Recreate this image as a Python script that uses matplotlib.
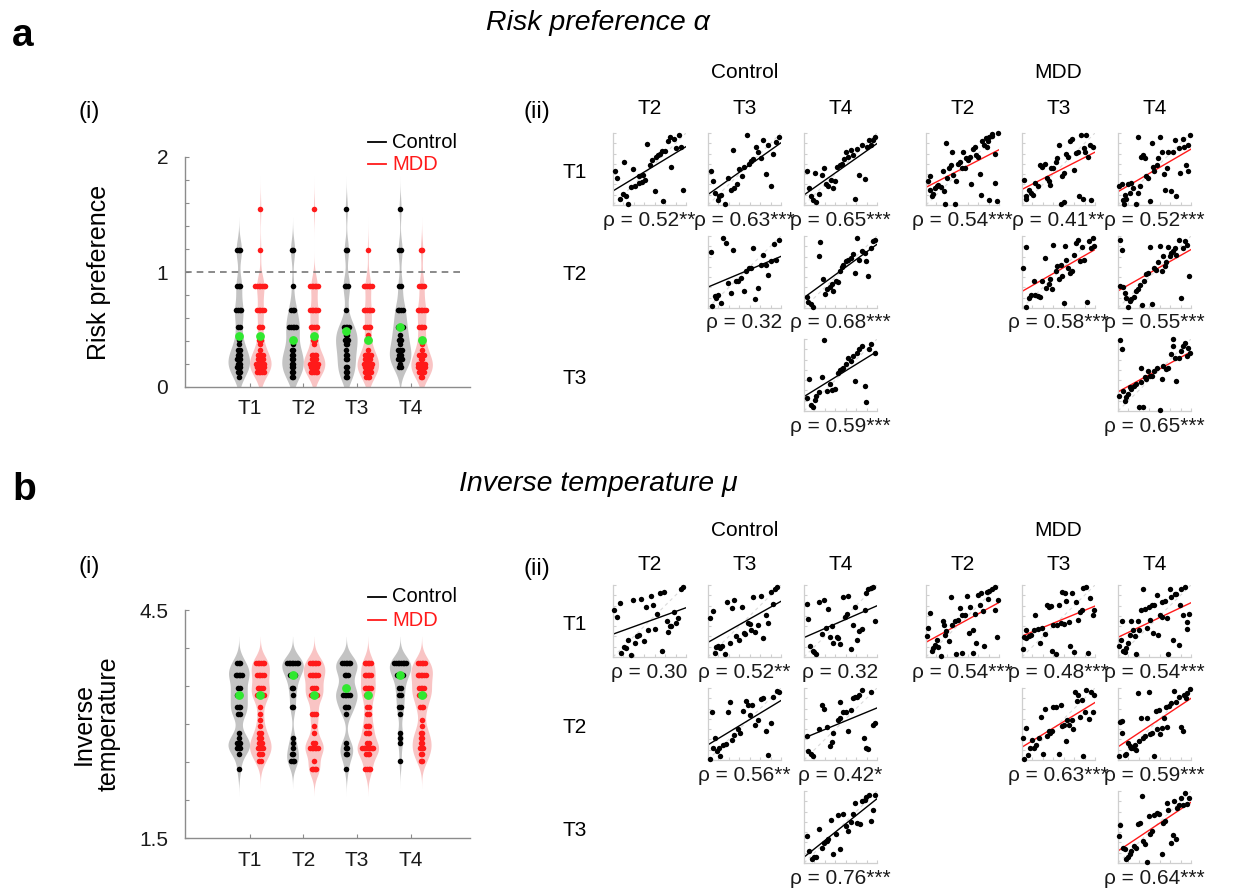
import numpy as np
import matplotlib
matplotlib.use("Agg")
import matplotlib.pyplot as plt
from matplotlib.lines import Line2D

plt.rcParams['font.family'] = ['Liberation Sans', 'DejaVu Sans']
NARROW = ['Liberation Sans Narrow', 'Liberation Sans', 'DejaVu Sans']

# ---------------- data ----------------
TIMES = ['T1', 'T2', 'T3', 'T4']

RP_LEVELS = [0.09, 0.13, 0.17, 0.20, 0.24, 0.28, 0.32, 0.37, 0.41, 0.45, 0.52, 0.67, 0.88, 1.19, 1.55]
RP_CTRL_COUNTS = [
    [1, 2, 3, 2, 3, 2, 2, 1, 1, 0, 2, 4, 3, 3, 0],
    [2, 2, 2, 2, 2, 2, 2, 1, 1, 0, 5, 3, 1, 2, 0],
    [2, 2, 2, 0, 2, 2, 1, 2, 3, 2, 4, 1, 3, 2, 1],
    [0, 0, 2, 1, 3, 2, 3, 1, 2, 1, 4, 4, 2, 2, 1],
]
RP_MDD_COUNTS = [
    [0, 5, 5, 6, 4, 4, 1, 1, 2, 0, 3, 5, 7, 1, 1],
    [0, 5, 5, 6, 4, 4, 0, 1, 2, 0, 5, 6, 6, 0, 1],
    [3, 5, 5, 6, 4, 5, 1, 0, 2, 1, 4, 6, 6, 1, 0],
    [2, 4, 5, 5, 2, 4, 1, 1, 2, 0, 4, 6, 4, 2, 0],
]
RP_CTRL_MEDIAN = [0.44, 0.41, 0.49, 0.52]
RP_MDD_MEDIAN = [0.44, 0.44, 0.41, 0.41]

IT_LEVELS = [2.41, 2.51, 2.60, 2.68, 2.75, 2.82, 2.88, 2.97, 3.05, 3.13, 3.22, 3.38, 3.48, 3.65, 3.80]
IT_CTRL_COUNTS = [
    [1, 0, 1, 3, 3, 1, 1, 0, 0, 2, 3, 3, 2, 5, 3],
    [0, 3, 2, 1, 1, 1, 0, 0, 0, 0, 2, 1, 2, 4, 8],
    [1, 0, 2, 2, 1, 0, 0, 0, 0, 1, 3, 5, 2, 3, 6],
    [0, 1, 0, 0, 1, 1, 1, 0, 0, 1, 2, 2, 2, 5, 8],
]
IT_MDD_COUNTS = [
    [0, 2, 3, 4, 3, 2, 2, 1, 1, 1, 1, 5, 4, 5, 6],
    [4, 1, 0, 6, 2, 0, 1, 1, 0, 3, 0, 5, 3, 6, 6],
    [4, 0, 3, 8, 2, 0, 3, 3, 0, 2, 2, 3, 5, 5, 5],
    [0, 2, 2, 3, 2, 2, 2, 1, 1, 0, 3, 4, 4, 6, 5],
]
IT_CTRL_MEDIAN = [3.38, 3.65, 3.47, 3.65]
IT_MDD_MEDIAN = [3.38, 3.38, 3.38, 3.38]

# scatter panels (values in percent of panel range); pairs order: 1-2,1-3,1-4,2-3,2-4,3-4
A_CTRL_12_X = [3,6,15,9,14,18,21,28,25,30,35,40,35,41,44,47,51,53,57,59,62,65,67,69,71,76,78,80,83,86,90,93,96]
A_CTRL_12_Y = [47,38,60,9,15,12,2,50,25,27,30,32,41,42,35,85,56,63,19,67,69,71,75,6,75,89,94,53,92,79,98,81,21]
A_CTRL_13_X = [4,7,10,14,15,18,23,27,31,34,36,40,43,47,50,53,56,59,62,66,69,73,76,80,82,86,89,93,97]
A_CTRL_13_Y = [47,33,16,7,12,14,2,37,21,77,23,29,50,40,53,98,57,61,64,81,73,65,91,43,84,27,71,88,94]
A_CTRL_14_X = [4,7,9,13,17,15,21,24,28,30,33,37,40,43,45,49,52,55,58,61,64,67,70,72,76,80,83,86,89,92,94,98]
A_CTRL_14_Y = [47,23,12,7,4,44,15,42,51,29,26,35,23,33,53,56,57,64,74,67,77,70,8,78,42,84,36,80,91,84,91,95]
A_CTRL_23_X = [4,5,9,11,14,18,21,25,27,32,34,38,41,45,49,52,56,59,62,65,68,73,76,80,82,86,90,93,97]
A_CTRL_23_Y = [78,3,16,14,18,7,98,91,35,21,80,38,38,42,24,51,56,56,84,12,28,60,74,60,46,65,89,67,95]
A_CTRL_24_X = [4,6,9,13,20,22,26,29,31,35,38,40,44,46,50,52,54,58,61,64,67,70,72,76,79,83,85,88,92,94,98]
A_CTRL_24_Y = [15,9,5,2,72,92,41,20,26,29,33,23,37,36,51,57,60,65,67,70,75,49,98,67,79,77,66,44,84,93,95]
A_CTRL_34_X = [4,7,9,13,15,17,21,24,27,31,36,39,43,46,49,52,54,58,61,64,67,70,72,76,79,83,85,89,92,98]
A_CTRL_34_Y = [18,44,9,6,15,21,26,47,99,28,38,29,30,53,57,58,60,65,74,69,77,42,80,86,91,35,12,86,93,81]

A_MDD_12_X = [3,6,5,8,10,12,15,17,20,23,25,26,28,29,32,34,35,37,40,41,44,46,49,51,53,55,58,60,62,64,67,69,71,74,75,77,79,82,84,85,87,90,91,94,95,97,99,87]
A_MDD_12_Y = [33,41,21,12,15,23,26,28,25,47,19,2,86,38,52,55,73,42,2,33,57,60,52,73,52,66,63,67,29,78,80,69,67,43,14,89,83,93,81,89,94,96,99,71,30,6,100,7]
A_MDD_13_X = [3,5,6,9,12,15,18,22,25,28,31,34,37,39,40,43,46,48,51,53,55,57,58,61,63,66,69,71,74,77,78,81,83,85,87,88,91,93,95,98]
A_MDD_13_Y = [35,12,9,21,16,14,30,26,56,53,57,38,33,28,51,52,60,65,84,2,41,44,4,71,67,89,92,49,72,74,12,98,8,79,74,98,67,83,7,80]
A_MDD_14_X = [2,5,7,8,9,11,14,16,18,21,25,28,30,28,32,34,37,39,41,44,47,48,50,53,55,58,61,63,65,67,69,72,75,78,80,83,85,89,90,93,96,99,96]
A_MDD_14_Y = [26,29,7,2,14,9,29,16,31,23,2,16,26,94,67,70,66,40,37,5,86,53,47,56,65,95,73,43,21,52,73,19,74,91,12,79,44,92,81,56,47,98,84]
A_MDD_23_X = [2,6,6,9,12,16,18,22,25,28,31,33,37,39,41,43,46,48,51,53,55,57,59,61,63,66,69,71,74,77,79,82,85,89,92,94,97,99]
A_MDD_23_Y = [55,85,2,14,18,37,18,16,15,38,70,28,33,41,27,88,52,58,40,60,44,7,86,67,56,49,51,74,91,95,65,85,67,9,93,84,97,86]
A_MDD_24_X = [3,5,3,7,9,11,14,16,18,22,25,28,30,33,35,39,41,44,47,49,52,55,58,60,62,64,66,69,71,73,76,78,80,84,87,89,92,94,98]
A_MDD_24_Y = [95,81,30,29,21,14,2,10,13,15,23,26,32,4,37,47,49,85,5,56,53,64,86,51,72,58,64,85,72,77,79,84,74,95,14,84,93,88,44]
A_MDD_34_X = [3,5,2,7,9,11,14,16,18,22,25,29,32,34,32,37,39,41,44,47,50,54,57,60,62,66,69,72,75,76,78,80,83,86,89,92,94,96,99]
A_MDD_34_Y = [99,86,21,28,14,19,23,33,30,35,37,6,40,6,60,47,44,56,49,48,56,60,2,44,63,58,60,79,100,91,74,42,74,84,91,95,77,88,81]

B_CTRL_12_X = [2,5,9,11,15,18,21,25,27,30,33,35,39,43,45,48,52,55,58,61,64,67,70,74,76,78,80,84,86,89,93,96]
B_CTRL_12_Y = [66,56,75,6,14,12,24,3,79,20,29,31,81,22,70,38,85,72,39,60,89,9,91,50,35,43,43,63,47,54,95,98]
B_CTRL_13_X = [3,7,9,11,14,17,19,23,26,30,33,36,39,42,47,49,51,55,57,59,62,65,68,73,76,80,82,86,89,92,95]
B_CTRL_13_Y = [54,64,6,14,15,13,15,4,77,20,68,79,29,24,70,33,32,47,46,38,83,35,45,85,27,59,47,90,73,95,97]
B_CTRL_14_X = [4,6,8,12,14,17,21,24,27,30,33,35,38,40,45,47,50,53,56,59,61,64,67,70,73,76,79,83,85,88,92,95,98]
B_CTRL_14_Y = [73,53,15,9,7,4,77,32,79,41,67,28,43,20,28,26,18,83,55,60,85,11,45,70,23,36,39,66,89,94,96,98,50]
B_CTRL_23_X = [3,5,7,10,12,15,17,20,24,27,30,33,36,41,44,48,52,55,57,61,65,68,73,76,80,82,86,89,94,97]
B_CTRL_23_Y = [2,67,17,31,12,16,5,21,22,67,80,28,35,43,37,68,82,76,63,76,48,55,85,86,40,7,51,88,96,95]
B_CTRL_24_X = [4,6,9,13,20,24,28,31,35,38,40,46,49,50,54,58,61,64,67,70,73,76,79,82,85,88,92,94,98]
B_CTRL_24_Y = [33,12,9,5,43,77,71,46,20,25,37,56,58,81,67,67,40,70,86,87,88,91,98,31,17,15,95,49,52]
B_CTRL_34_X = [4,7,11,14,17,21,24,28,31,33,37,40,44,47,50,54,58,61,64,67,70,73,77,79,83,85,89,92,95,98]
B_CTRL_34_Y = [37,16,5,8,9,47,21,28,30,33,60,13,40,67,20,68,51,44,57,68,84,56,54,86,88,92,95,58,74,95]

B_MDD_12_X = [2,3,6,8,10,12,15,17,20,23,25,26,28,32,34,36,40,41,44,46,49,50,53,56,59,61,64,65,67,69,71,74,76,78,80,83,85,87,91,94,97,99,95]
B_MDD_12_Y = [29,40,61,8,12,17,24,14,1,50,45,30,36,22,83,45,50,4,52,68,58,6,58,85,33,70,38,5,60,20,86,72,89,64,15,91,81,92,95,98,28,79,66]
B_MDD_13_X = [2,3,5,6,9,12,16,18,22,25,28,31,34,37,40,41,43,46,48,51,53,55,57,59,61,64,66,69,71,74,77,79,82,84,88,91,93,97,99]
B_MDD_13_Y = [11,28,37,27,29,30,37,58,39,20,40,32,72,70,71,8,44,4,45,72,47,91,46,89,78,48,15,89,7,76,51,62,65,96,97,5,82,59,66]
B_MDD_14_X = [2,4,6,7,9,11,14,16,18,21,23,25,28,29,32,34,37,40,42,44,46,48,50,54,55,57,60,61,64,67,69,71,73,76,78,80,83,85,87,89,92,94,98,95]
B_MDD_14_Y = [15,24,50,8,7,12,20,30,50,37,29,4,50,37,66,94,67,41,70,52,72,33,72,86,31,58,77,56,78,54,4,94,84,24,87,88,17,72,94,59,98,49,60,39]
B_MDD_23_X = [2,3,6,8,11,14,17,19,23,26,29,31,34,37,39,41,43,47,51,53,55,57,60,62,65,68,70,72,75,77,79,82,84,86,88,92,94,97,99]
B_MDD_23_Y = [30,2,45,7,17,28,16,21,31,60,9,71,34,40,38,40,73,74,8,76,47,49,26,55,49,56,43,94,82,91,60,84,5,67,98,57,95,67,90]
B_MDD_24_X = [3,6,5,2,9,11,14,16,18,21,23,25,28,29,32,34,37,40,42,44,47,50,52,54,56,58,61,63,66,67,70,73,77,79,83,86,89,90,93,95,99]
B_MDD_24_Y = [53,54,37,5,7,9,23,20,17,17,21,14,93,26,58,30,33,59,94,36,38,5,68,43,69,36,45,59,74,46,75,79,96,80,88,46,40,90,86,93,99]
B_MDD_34_X = [2,3,7,9,11,14,16,18,22,25,28,30,33,34,37,40,43,44,47,50,54,56,60,62,64,67,69,72,75,77,79,81,84,87,89,92,94,98]
B_MDD_34_Y = [37,53,21,19,5,8,13,16,23,21,54,56,93,30,27,1,65,40,44,67,70,68,12,56,59,84,73,28,39,86,33,77,81,91,81,98,82,91]

A_CTRL_RHO = ['0.52**', '0.63***', '0.65***', '0.32', '0.68***', '0.59***']
A_MDD_RHO = ['0.54***', '0.41**', '0.52***', '0.58***', '0.55***', '0.65***']
B_CTRL_RHO = ['0.30', '0.52**', '0.32', '0.56**', '0.42*', '0.76***']
B_MDD_RHO = ['0.54***', '0.48***', '0.54***', '0.63***', '0.59***', '0.64***']

PAIRS = [(0, 1), (0, 2), (0, 3), (1, 2), (1, 3), (2, 3)]

# ---------------- style ----------------
GRAY_FILL = '#c3c3c3'
PINK_FILL = '#f9c4c4'
RED = '#ff1a1a'
GREEN = '#30e830'
AXC = '#8c8c8c'
LIGHT = '#cfcfcf'

W, H = 1237, 888
fig = plt.figure(figsize=(W / 100, H / 100), dpi=100)


def fax(x0, y0, x1, y1):
    return fig.add_axes([x0 / W, 1 - y1 / H, (x1 - x0) / W, (y1 - y0) / H])


def ftext(x, y, s, ha='center', va='center', **kw):
    return fig.text(x / W, 1 - y / H, s, ha=ha, va=va, **kw)


def fline(x0, x1, y, color):
    fig.add_artist(Line2D([x0 / W, x1 / W], [1 - y / H, 1 - y / H],
                          transform=fig.transFigure, color=color, lw=1.3))


def violin_panel(box, levels, ctrl_counts, mdd_counts, ctrl_med, mdd_med,
                 bw, lo, ylim, yticks, ylabels, ylabel, label_x):
    ax = fax(*box)
    levels = np.array(levels)
    for i in range(4):
        groups = [(ctrl_counts[i], ctrl_med[i], -0.2, GRAY_FILL, 'black'),
                  (mdd_counts[i], mdd_med[i], 0.2, PINK_FILL, RED)]
        for counts, med, off, fc, dc in groups:
            counts = np.array(counts)
            vals = np.repeat(levels, counts)
            xc = i + 1 + off
            grid = np.linspace(max(lo, vals.min() - 3.2 * bw), vals.max() + 3.2 * bw, 400)
            dens = np.exp(-0.5 * ((grid[:, None] - vals[None, :]) / bw) ** 2).sum(1)
            hw = dens / dens.max() * 0.2
            ax.fill_betweenx(grid, xc - hw, xc + hw, color=fc, lw=0, zorder=1)
            for lev, k in zip(levels, counts):
                if k == 0:
                    continue
                offs = (np.arange(k) - (k - 1) / 2) * 0.03
                ax.scatter(xc + offs, np.full(k, lev), s=16, color=dc, lw=0, zorder=3)
            ax.scatter([xc], [med], s=40, color=GREEN, lw=0, zorder=4)
    ax.set_xlim(-0.2, 5.1)
    ax.set_ylim(*ylim)
    ax.set_xticks(range(1, 5))
    ax.set_xticklabels(TIMES, fontsize=15)
    ax.set_yticks(yticks)
    ax.set_yticklabels(ylabels, fontsize=15)
    for s in ['top', 'right']:
        ax.spines[s].set_visible(False)
    for s in ['left', 'bottom']:
        ax.spines[s].set_color(AXC)
        ax.spines[s].set_linewidth(1.0)
    ax.tick_params(direction='in', length=3, color=AXC, labelcolor='#1a1a1a')
    ax.tick_params(axis='y', pad=12)
    ax.tick_params(axis='x', pad=9)
    ax.set_ylabel(ylabel, fontsize=18, linespacing=1.05)
    ax.yaxis.set_label_coords(label_x, 0.5)
    return ax


def scatter_panel(x0, y0, xs, ys, lc, rho):
    ax = fax(x0, y0, x0 + 73, y0 + 72)
    xs = np.array(xs, float)
    ys = np.array(ys, float)
    ax.plot([0, 100], [0, 100], ls=(0, (3, 3)), color='#dadada', lw=0.8, zorder=1)
    m, b = np.polyfit(xs, ys, 1)
    ax.plot([0, 100], [b, m * 100 + b], color=lc, lw=1.0, zorder=2)
    ax.scatter(xs, ys, s=15, color='black', lw=0, zorder=3, clip_on=False)
    ax.set_xlim(0, 100)
    ax.set_ylim(0, 100)
    for s in ['top', 'right']:
        ax.spines[s].set_visible(False)
    for s in ['left', 'bottom']:
        ax.spines[s].set_color(LIGHT)
        ax.spines[s].set_linewidth(0.9)
    ax.set_xticks(np.arange(0, 101, 14.3))
    ax.set_yticks(np.arange(0, 101, 14.3))
    ax.tick_params(direction='in', length=2, color=LIGHT,
                   labelbottom=False, labelleft=False)
    ftext(x0 + 36.5, y0 + 87, '\u03c1 = ' + rho, fontsize=15, color='#1a1a1a')


def scatter_block(ytop, ctrl_sets, mdd_sets, ctrl_rho, mdd_rho, header_y, group_y):
    ctrl_x = [613, 708, 804]
    mdd_x = [926, 1022, 1118]
    rows_y = [ytop, ytop + 103, ytop + 206]
    for k, (r, c) in enumerate(PAIRS):
        scatter_panel(ctrl_x[c - 1], rows_y[r], ctrl_sets[k][0], ctrl_sets[k][1], 'black', ctrl_rho[k])
        scatter_panel(mdd_x[c - 1], rows_y[r], mdd_sets[k][0], mdd_sets[k][1], RED, mdd_rho[k])
    for j in range(3):
        ftext(ctrl_x[j] + 36.5, header_y, TIMES[j + 1], fontsize=15, family=NARROW)
        ftext(mdd_x[j] + 36.5, header_y, TIMES[j + 1], fontsize=15, family=NARROW)
    for r in range(3):
        ftext(575, rows_y[r] + 39, TIMES[r], fontsize=15, family=NARROW)
    ftext(ctrl_x[1] + 36.5, group_y, 'Control', fontsize=15, family=NARROW)
    ftext(mdd_x[1] + 36.5, group_y, 'MDD', fontsize=15, family=NARROW)
    ftext(537, header_y + 4, '(ii)', fontsize=17, family=NARROW)


# ---------------- panel a ----------------
ftext(12, 36, 'a', ha='left', fontsize=28, fontweight='bold')
ftext(598, 23, 'Risk preference \u03b1', fontsize=20.5, style='italic')
ftext(89, 112, '(i)', fontsize=17, family=NARROW)
ax_a = violin_panel((185, 157, 470, 387), RP_LEVELS, RP_CTRL_COUNTS, RP_MDD_COUNTS,
                    RP_CTRL_MEDIAN, RP_MDD_MEDIAN, 0.09, 0.0, (0, 2),
                    np.arange(0, 2.01, 0.2), ['0', '', '', '', '', '1', '', '', '', '', '2'],
                    'Risk preference', -0.26)
ax_a.axhline(1, xmin=0, xmax=0.97, color='#777777', ls=(0, (4, 3)), lw=1.2, zorder=2)
fline(368, 386, 142, 'black')
ftext(392, 142, 'Control', ha='left', fontsize=14.5)
fline(368, 386, 164, RED)
ftext(392, 164, 'MDD', ha='left', fontsize=14.5, color=RED)

scatter_block(133,
              [(A_CTRL_12_X, A_CTRL_12_Y), (A_CTRL_13_X, A_CTRL_13_Y), (A_CTRL_14_X, A_CTRL_14_Y),
               (A_CTRL_23_X, A_CTRL_23_Y), (A_CTRL_24_X, A_CTRL_24_Y), (A_CTRL_34_X, A_CTRL_34_Y)],
              [(A_MDD_12_X, A_MDD_12_Y), (A_MDD_13_X, A_MDD_13_Y), (A_MDD_14_X, A_MDD_14_Y),
               (A_MDD_23_X, A_MDD_23_Y), (A_MDD_24_X, A_MDD_24_Y), (A_MDD_34_X, A_MDD_34_Y)],
              A_CTRL_RHO, A_MDD_RHO, 108, 73)

# ---------------- panel b ----------------
ftext(12, 490, 'b', ha='left', fontsize=28, fontweight='bold')
ftext(598, 484, 'Inverse temperature \u03bc', fontsize=20.5, style='italic')
ftext(89, 567, '(i)', fontsize=17, family=NARROW)
ax_b = violin_panel((185, 610, 470, 838), IT_LEVELS, IT_CTRL_COUNTS, IT_MDD_COUNTS,
                    IT_CTRL_MEDIAN, IT_MDD_MEDIAN, 0.11, -10, (1.5, 4.5),
                    np.arange(1.5, 4.51, 0.5), ['1.5', '', '', '', '', '', '4.5'],
                    'Inverse\ntemperature', -0.225)
fline(368, 386, 597, 'black')
ftext(392, 597, 'Control', ha='left', fontsize=14.5)
fline(368, 386, 620, RED)
ftext(392, 620, 'MDD', ha='left', fontsize=14.5, color=RED)

scatter_block(585,
              [(B_CTRL_12_X, B_CTRL_12_Y), (B_CTRL_13_X, B_CTRL_13_Y), (B_CTRL_14_X, B_CTRL_14_Y),
               (B_CTRL_23_X, B_CTRL_23_Y), (B_CTRL_24_X, B_CTRL_24_Y), (B_CTRL_34_X, B_CTRL_34_Y)],
              [(B_MDD_12_X, B_MDD_12_Y), (B_MDD_13_X, B_MDD_13_Y), (B_MDD_14_X, B_MDD_14_Y),
               (B_MDD_23_X, B_MDD_23_Y), (B_MDD_24_X, B_MDD_24_Y), (B_MDD_34_X, B_MDD_34_Y)],
              B_CTRL_RHO, B_MDD_RHO, 565, 530)

fig.savefig('out.png', dpi=100, facecolor='white')
